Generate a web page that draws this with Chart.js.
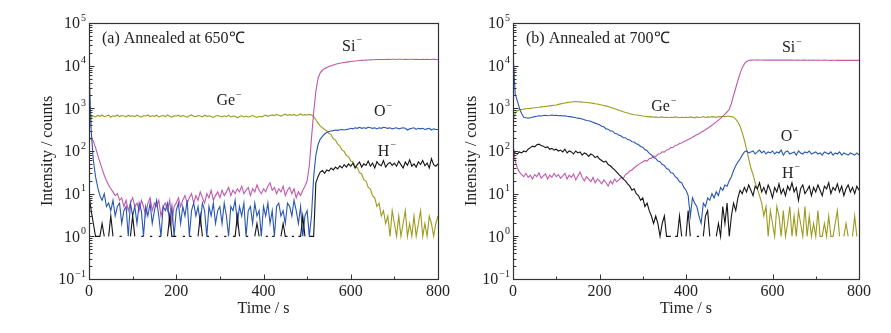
<!DOCTYPE html>
<html>
<head>
<meta charset="utf-8">
<script src="https://cdn.jsdelivr.net/npm/chart.js@4.4.3/dist/chart.umd.min.js"></script>
<style>
  html, body { margin: 0; padding: 0; background: #fff; }
  #wrap { position: relative; width: 891px; height: 333px; overflow: hidden; }
  .panel { position: absolute; top: 0; height: 333px; }
  #pa { left: 0; width: 460px; }
  #pb { left: 445px; width: 446px; }
</style>
</head>
<body>
<div id="wrap">
  <div class="panel" id="pa"><canvas id="chartA"></canvas></div>
  <div class="panel" id="pb"><canvas id="chartB"></canvas></div>
</div>
<script>
// Sputtering time (s) for every sample
const TIME = [
  0, 5, 10, 15, 20, 25, 30, 35, 40, 45, 50, 55, 60, 65, 70, 75, 80, 85, 90, 95,
  100, 105, 110, 115, 120, 125, 130, 135, 140, 145, 150, 155, 160, 165, 170, 175, 180, 185, 190, 195,
  200, 205, 210, 215, 220, 225, 230, 235, 240, 245, 250, 255, 260, 265, 270, 275, 280, 285, 290, 295,
  300, 305, 310, 315, 320, 325, 330, 335, 340, 345, 350, 355, 360, 365, 370, 375, 380, 385, 390, 395,
  400, 405, 410, 415, 420, 425, 430, 435, 440, 445, 450, 455, 460, 465, 470, 475, 480, 485, 490, 495,
  500, 505, 510, 515, 520, 525, 530, 535, 540, 545, 550, 555, 560, 565, 570, 575, 580, 585, 590, 595,
  600, 605, 610, 615, 620, 625, 630, 635, 640, 645, 650, 655, 660, 665, 670, 675, 680, 685, 690, 695,
  700, 705, 710, 715, 720, 725, 730, 735, 740, 745, 750, 755, 760, 765, 770, 775, 780, 785, 790, 795,
  800
];

// (a) annealed at 650 C -- counts, null = zero counts
const GE_A = [
  300, 640, 660, 630, 680, 650, 700, 640, 660, 690, 620, 670, 650, 700, 640, 680, 660, 630, 690, 650,
  670, 640, 690, 650, 620, 680, 660, 700, 640, 670, 650, 690, 630, 660, 680, 640, 700, 650, 620, 670,
  660, 690, 640, 680, 650, 620, 670, 700, 650, 640, 680, 660, 630, 690, 650, 670, 640, 610, 660, 680,
  650, 630, 670, 640, 690, 620, 660, 650, 600, 640, 670, 630, 660, 620, 650, 680, 640, 610, 650, 630,
  660, 690, 650, 680, 700, 670, 720, 690, 660, 700, 730, 680, 710, 690, 720, 670, 700, 740, 690, 710,
  700, 720, 700, 640, 540, 450, 390, 350, 320, 300, 260, 240, 195, 180, 145, 132, 105, 98, 78, 74,
  58, 56, 43, 41, 31, 29, 21, 20, 14, 13, 9, 8, 5, 6, 3, 4, 2, 3, 1, 4,
  2, 1, 3, 1, 2, 4, 1, 2, 1, 3, 1, 2, 4, 1, 2, 1, 3, 2, 1, 2,
  3
];
const SI_A = [
  180, 200, 170, 120, 80, 55, 38, 27, 20, 16, 13, 11, 9, 10, 7, 8, 5, 7, 4, 6,
  8, 5, 6, 4, 7, 5, 3, 6, 8, 4, 6, 5, 7, 3, 5, 6, 4, 7, 2, 5,
  6, 8, 5, 7, 9, 6, 8, 10, 6, 9, 7, 11, 8, 6, 10, 8, 12, 7, 9, 11,
  8, 12, 9, 11, 14, 9, 12, 10, 13, 11, 15, 10, 12, 14, 9, 13, 11, 16, 12, 10,
  13, 11, 15, 18, 12, 14, 10, 13, 11, 15, 9, 12, 14, 10, 13, 8, 11, 9, 12, 15,
  20, 45, 200, 800, 2500, 5000, 6800, 7800, 8500, 9100, 9600, 10000, 10400, 10800, 11100, 11400, 11700, 11900, 12100, 12300,
  12500, 12700, 12900, 13000, 13200, 13300, 13400, 13500, 13600, 13700, 13800, 13800, 13900, 13900, 14000, 14000, 14000, 14100, 14000, 14100,
  14100, 14000, 14100, 14100, 14000, 14100, 14000, 14100, 14100, 14000, 14100, 14000, 14000, 14100, 14000, 14100, 14000, 14000, 14100, 14000,
  14000
];
const O_A = [
  9000, 300, 60, 25, 14, 9, 7, 10, 5, 6, 4, 7, 3, 5, 6, 2, 4, 5, 1, 6,
  3, 5, 2, 6, 4, 1, 5, 3, 6, 2, 4, 7, 3, 1, 5, 4, 6, 2, 5, 1,
  4, 6, 2, 5, 3, 7, 1, 4, 6, 3, 5, 2, 6, 4, 1, 5, 3, 6, 2, 4,
  5, 2, 6, 3, 1, 5, 4, 7, 2, 5, 3, 6, 1, 4, 5, 2, 6, 3, 4, 1,
  5, 3, 6, 2, 4, 1, 5, 6, 3, 4, 2, 6, 5, 3, 7, 4, 2, 5, 1, 3,
  4, 1, 3, 25, 80, 140, 190, 220, 250, 270, 285, 295, 300, 310, 305, 315, 320, 310, 320, 325,
  340, 330, 350, 340, 360, 340, 350, 340, 360, 350, 340, 350, 330, 350, 340, 360, 350, 340, 350, 330,
  340, 350, 330, 340, 350, 340, 310, 330, 340, 350, 320, 340, 330, 340, 320, 330, 340, 310, 330, 320,
  320
];
const H_A = [
  10, 4, 2, 1, 1, 1, 2, 1, null, 1, 3, 1, null, null, 1, 1, null, null, null, 1,
  3, 1, null, null, 1, 1, null, null, 1, 1, null, null, 1, 1, null, null, 1, 3, 1, 1,
  1, null, null, 1, 1, null, 1, 1, null, null, 1, 3, 1, null, 1, 1, null, null, 1, 1,
  null, null, 1, 1, null, null, 1, 1, 3, 1, null, null, 1, 1, null, null, 1, 2, 1, null,
  null, 1, 1, null, 1, 1, null, null, 1, 2, 1, 1, null, 1, 1, null, 1, 1, 3, 1,
  null, 1, 1, 1, 18, 25, 32, 35, 30, 36, 34, 40, 36, 42, 38, 45, 40, 48, 42, 50,
  44, 52, 40, 48, 55, 42, 50, 46, 58, 44, 52, 40, 56, 48, 45, 60, 42, 50, 54, 46,
  52, 44, 58, 48, 40, 55, 46, 62, 44, 50, 42, 56, 48, 60, 45, 52, 40, 66, 48, 44,
  50
];

// (b) annealed at 700 C
const GE_B = [
  500, 760, 880, 920, 950, 960, 980, 990, 1000, 1020, 1030, 1050, 1060, 1080, 1090, 1110, 1120, 1140, 1160, 1180,
  1200, 1240, 1270, 1300, 1330, 1360, 1390, 1410, 1430, 1440, 1430, 1420, 1400, 1390, 1370, 1350, 1330, 1310, 1280, 1260,
  1230, 1200, 1170, 1140, 1100, 1060, 1020, 980, 940, 900, 870, 830, 800, 780, 750, 730, 710, 700, 690, 680,
  660, 650, 640, 630, 640, 620, 630, 610, 620, 630, 610, 620, 600, 620, 610, 630, 620, 600, 620, 610,
  620, 610, 630, 620, 600, 630, 610, 620, 640, 610, 630, 620, 640, 630, 610, 640, 630, 650, 640, 650,
  650, 640, 620, 560, 480, 380, 270, 180, 110, 65, 40, 28, 18, 13, 9, 6, 3, 5, 1, 4,
  2, 1, 5, 3, 1, 4, 1, 2, 5, 1, 3, 1, 4, 2, 1, 5, 1, 3, 1, 2,
  1, 4, 1, 1, 2, 1, 3, 1, 1, 2, 4, 1, null, 1, 2, 1, null, 1, 3, 1,
  null
];
const SI_B = [
  150, 60, 40, 32, 28, 25, 30, 24, 27, 22, 28, 25, 31, 23, 26, 29, 22, 27, 24, 30,
  25, 28, 23, 26, 30, 22, 27, 24, 29, 21, 26, 32, 24, 20, 25, 22, 19, 24, 18, 22,
  20, 17, 21, 18, 15, 20, 17, 22, 19, 21, 24, 23, 28, 30, 34, 36, 40, 44, 48, 52,
  55, 60, 58, 66, 68, 76, 74, 84, 86, 96, 94, 106, 108, 120, 122, 135, 138, 150, 154, 166,
  175, 185, 195, 210, 225, 240, 255, 275, 295, 315, 340, 370, 400, 440, 480, 530, 580, 650, 730, 820,
  950, 1300, 2000, 3000, 4500, 6500, 9000, 11000, 12500, 13200, 13500, 13600, 13600, 13500, 13600, 13600, 13500, 13600, 13500, 13600,
  13500, 13600, 13500, 13500, 13600, 13500, 13500, 13600, 13500, 13500, 13400, 13500, 13500, 13400, 13500, 13500, 13400, 13500, 13400, 13500,
  13400, 13500, 13400, 13400, 13500, 13400, 13400, 13300, 13400, 13400, 13300, 13400, 13300, 13400, 13300, 13300, 13400, 13300, 13300, 13300,
  13300
];
const O_B = [
  20000, 2200, 1500, 1000, 750, 620, 600, 590, 600, 620, 640, 650, 670, 660, 680, 690, 670, 680, 700, 680,
  690, 670, 680, 660, 670, 650, 640, 630, 620, 600, 590, 580, 560, 540, 520, 510, 490, 470, 450, 430,
  410, 380, 370, 330, 325, 295, 295, 260, 255, 235, 225, 205, 205, 185, 182, 165, 162, 148, 142, 128,
  122, 108, 102, 88, 82, 70, 67, 58, 56, 48, 46, 39, 37, 31, 30, 25, 23, 19, 18, 14,
  12, 9, 3, 8, 6, 5, 3, 2, 6, 5, 8, 7, 10, 8, 11, 9, 14, 12, 16, 15,
  20, 25, 35, 45, 55, 65, 80, 95, 100, 90, 95, 100, 85, 95, 105, 90, 100, 85, 95, 90,
  100, 85, 95, 90, 105, 80, 95, 100, 85, 90, 95, 80, 100, 90, 85, 95, 90, 100, 85, 90,
  95, 85, 90, 80, 95, 90, 85, 95, 80, 90, 85, 95, 80, 90, 85, 80, 90, 85, 80, 90,
  80
];
const H_B = [
  110, 90, 85, 95, 90, 100, 95, 110, 120, 130, 125, 140, 145, 135, 130, 120, 125, 110, 115, 105,
  110, 100, 105, 95, 110, 90, 100, 95, 85, 100, 90, 95, 80, 90, 85, 75, 85, 80, 70, 75,
  65, 60, 55, 58, 48, 45, 40, 36, 32, 28, 25, 22, 20, 17, 15, 12, 13, 10, 9, 7,
  8, 5, 6, 4, 3, 2, 3, 2, 1, 2, 3, 1, 1, 1, null, 1, 1, 3, 1, null,
  1, 4, 1, null, null, 1, 1, null, 1, 3, 4, 1, null, null, 1, 2, 1, 5, 2, 6,
  1, 3, 6, 4, 8, 12, 10, 14, 11, 16, 12, 9, 15, 13, 18, 11, 14, 10, 16, 12,
  8, 14, 11, 17, 10, 13, 9, 15, 12, 18, 11, 14, 7, 13, 16, 10, 12, 15, 9, 14,
  11, 16, 12, 9, 15, 13, 18, 10, 14, 12, 17, 11, 15, 9, 13, 16, 11, 14, 10, 15,
  12
];

const X_MAJOR = [0, 200, 400, 600, 800];
const X_MINOR = [100, 300, 500, 700];
const Y_DECADES = [-1, 0, 1, 2, 3, 4, 5];

const COLOR_SI = '#c158ab';
const COLOR_GE = '#9d9b1e';
const COLOR_O = '#2a56b4';
const COLOR_H = '#151515';
const INK = '#222';
const SERIF = '"Liberation Serif", "Times New Roman", serif';

Chart.defaults.font.family = SERIF;

// text with a small raised minus / exponent after it
function withSup(ctx, base, sup, x, y, size, align) {
  ctx.font = size + 'px ' + SERIF;
  const bw = ctx.measureText(base).width;
  ctx.font = Math.round(size * 0.62) + 'px ' + SERIF;
  const sw = ctx.measureText(sup).width;
  let x0 = x;
  if (align === 'center') x0 = x - (bw + sw + 1) / 2;
  if (align === 'right') x0 = x - (bw + sw + 1);
  ctx.textAlign = 'left';
  ctx.textBaseline = 'middle';
  ctx.font = size + 'px ' + SERIF;
  ctx.fillText(base, x0, y);
  ctx.font = Math.round(size * 0.62) + 'px ' + SERIF;
  ctx.fillText(sup, x0 + bw + 1, y - size * 0.38);
}

const framePlugin = {
  id: 'frame',
  afterDraw(chart, args, opts) {
    const { ctx, chartArea: a, scales: { x, y } } = chart;
    ctx.save();
    ctx.strokeStyle = '#333';
    ctx.lineWidth = 1.2;
    const L = Math.round(a.left) + 0.5, R = Math.round(a.right) + 0.5;
    const T = Math.round(a.top) + 0.5, B = Math.round(a.bottom) + 0.5;
    ctx.strokeRect(L, T, R - L, B - T);

    // inward tick marks
    ctx.lineWidth = 1;
    ctx.beginPath();
    X_MAJOR.forEach(v => { const px = Math.round(x.getPixelForValue(v)) + 0.5; ctx.moveTo(px, B); ctx.lineTo(px, B - 5); });
    X_MINOR.forEach(v => { const px = Math.round(x.getPixelForValue(v)) + 0.5; ctx.moveTo(px, B); ctx.lineTo(px, B - 3); });
    Y_DECADES.forEach(e => {
      const py = Math.round(y.getPixelForValue(Math.pow(10, e))) + 0.5;
      ctx.moveTo(L, py); ctx.lineTo(L + 5, py);
      if (e < 5) {
        for (let k = 2; k <= 9; k++) {
          const pm = Math.round(y.getPixelForValue(k * Math.pow(10, e))) + 0.5;
          ctx.moveTo(L, pm); ctx.lineTo(L + 3, pm);
        }
      }
    });
    ctx.stroke();

    ctx.fillStyle = INK;
    // decade labels 10^n
    Y_DECADES.forEach(e => {
      const py = y.getPixelForValue(Math.pow(10, e));
      withSup(ctx, '10', e < 0 ? '\u2212' + (-e) : String(e), a.left - 3, py + 1, 16, 'right');
    });

    // axis titles
    ctx.font = '16px ' + SERIF;
    ctx.textAlign = 'center';
    ctx.textBaseline = 'middle';
    ctx.fillText('Time / s', (a.left + a.right) / 2, 309);
    ctx.save();
    ctx.translate(a.left - 41, (a.top + a.bottom) / 2);
    ctx.rotate(-Math.PI / 2);
    ctx.fillText('Intensity / counts', 0, 0);
    ctx.restore();

    // panel caption
    ctx.font = '16px ' + SERIF;
    ctx.textAlign = 'left';
    ctx.fillText(opts.caption, a.left + 13, 39);

    // ion labels
    opts.ions.forEach(ion => {
      withSup(ctx, ion.name, '\u2212', x.getPixelForValue(ion.t), y.getPixelForValue(ion.v), 16, 'center');
    });
    ctx.restore();
  }
};

function buildChart(id, series, cfg) {
  return new Chart(document.getElementById(id), {
    type: 'line',
    data: {
      datasets: series.map(s => ({
        label: s.name,
        data: TIME.map((t, i) => ({ x: t, y: s.values[i] })),
        borderColor: s.color,
        borderWidth: 1.1,
        pointRadius: 0,
        tension: 0,
        spanGaps: false,
        order: s.order
      }))
    },
    options: {
      animation: false,
      responsive: true,
      maintainAspectRatio: false,
      layout: { padding: { top: 23, right: cfg.padRight, left: 0, bottom: 0 } },
      plugins: { legend: { display: false }, tooltip: { enabled: false }, frame: cfg },
      scales: {
        x: {
          type: 'linear', min: 0, max: 800,
          grid: { display: false, drawTicks: false },
          border: { display: false },
          ticks: { stepSize: 200, padding: 3, color: INK, font: { size: 16 }, maxRotation: 0, autoSkip: false },
          afterFit: s => { s.height = 54; }
        },
        y: {
          type: 'logarithmic', min: 0.1, max: 100000,
          grid: { display: false, drawTicks: false },
          border: { display: false },
          ticks: { display: false },
          afterFit: s => { s.width = cfg.axisWidth; }
        }
      }
    },
    plugins: [framePlugin]
  });
}

buildChart('chartA', [
  { name: 'Ge', values: GE_A, color: COLOR_GE, order: 4 },
  { name: 'Si', values: SI_A, color: COLOR_SI, order: 3 },
  { name: 'O', values: O_A, color: COLOR_O, order: 2 },
  { name: 'H', values: H_A, color: COLOR_H, order: 1 }
], {
  axisWidth: 89, padRight: 22,
  caption: '(a) Annealed at 650\u2103',
  ions: [
    { name: 'Si', t: 603, v: 27500 },
    { name: 'Ge', t: 321, v: 1480 },
    { name: 'O', t: 674, v: 810 },
    { name: 'H', t: 683, v: 96 }
  ]
});

buildChart('chartB', [
  { name: 'Ge', values: GE_B, color: COLOR_GE, order: 4 },
  { name: 'Si', values: SI_B, color: COLOR_SI, order: 3 },
  { name: 'O', values: O_B, color: COLOR_O, order: 2 },
  { name: 'H', values: H_B, color: COLOR_H, order: 1 }
], {
  axisWidth: 68, padRight: 32,
  caption: '(b) Annealed at 700\u2103',
  ions: [
    { name: 'Si', t: 645, v: 26000 },
    { name: 'Ge', t: 349, v: 1070 },
    { name: 'O', t: 640, v: 213 },
    { name: 'H', t: 643, v: 30 }
  ]
});
</script>
</body>
</html>
